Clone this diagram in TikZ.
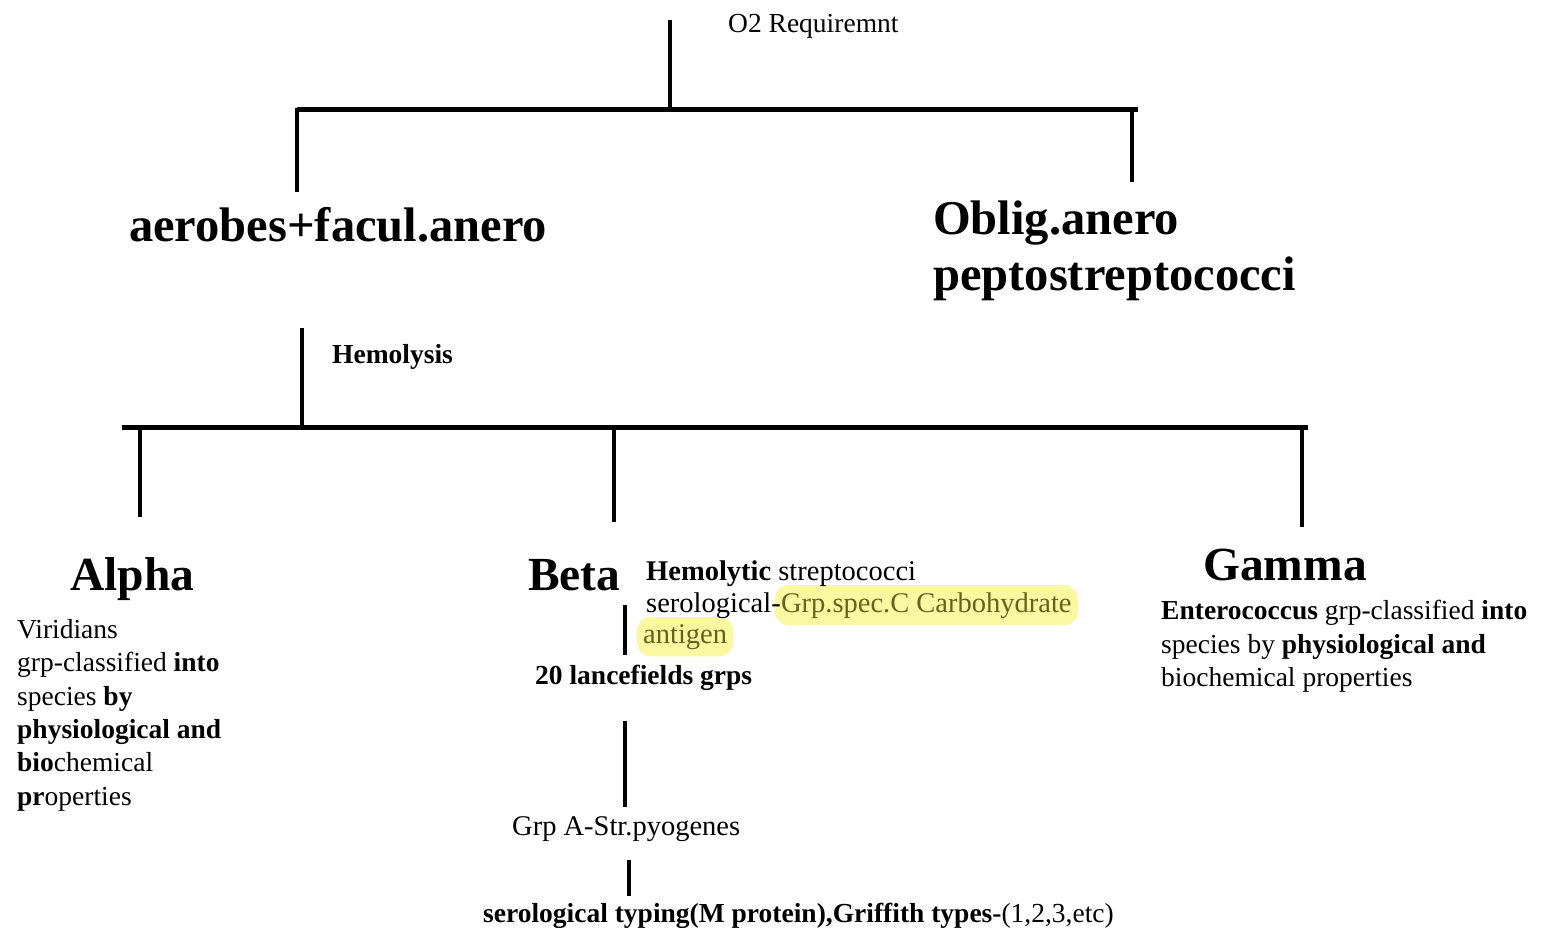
\documentclass[tikz,border=0pt]{standalone}
\usepackage{fontspec}
\setmainfont{Liberation Serif}
\usetikzlibrary{fit,backgrounds}
\definecolor{hlfill}{RGB}{250,248,160}
\definecolor{hltext}{RGB}{100,100,30}
\tikzset{
  bar/.style={line width=5pt},
  stem/.style={line width=4pt},
  bigtxt/.style={font=\bfseries\fontsize{48.5}{55}\selectfont, inner sep=0pt, anchor=base west},
  headtxt/.style={font=\bfseries\fontsize{47.5}{55}\selectfont, inner sep=0pt, anchor=base west},
  txt/.style={font=\fontsize{27.5}{33}\selectfont, inner sep=0pt, anchor=base west},
  betatxt/.style={font=\fontsize{28.5}{33}\selectfont, inner sep=0pt, anchor=base west},
  hlbox/.style={fill=hlfill, rounded corners=14pt, inner xsep=6pt, inner ysep=7pt}
}
\begin{document}
\begin{tikzpicture}[x=1pt,y=-1pt]
\useasboundingbox (0,0) rectangle (1542,928);

% texts
\node[txt] (o2) at (728,33) {O2 Requiremnt};
\node[bigtxt] (aer) at (129,242) {aerobes+facul.anero};
\node[bigtxt] (obl) at (933,235) {Oblig.anero};
\node[bigtxt] (pep) at (933,290) {peptostreptococci};
\node[txt] (hem) at (332,363) {\textbf{Hemolysis}};

\node[headtxt] (alpha) at (70,590) {Alpha};
\node[headtxt] (beta) at (528,590) {Beta};
\node[headtxt] (gamma) at (1203,580) {Gamma};

\node[txt] (al1) at (17,638) {Viridians};
\node[txt] (al2) at (17,671) {grp-classified \textbf{into}};
\node[txt] (al3) at (17,705) {species \textbf{by}};
\node[txt] (al4) at (17,738) {\textbf{physiological and}};
\node[txt] (al5) at (17,771) {\textbf{bio}chemical};
\node[txt] (al6) at (17,805) {\textbf{pr}operties};

\node[betatxt] (be1) at (646,580) {\textbf{Hemolytic} streptococci};
\node[betatxt] (be2a) at (646,612) {serological-};
\node[betatxt, text=hltext] (be2b) at (be2a.base east) {Grp.spec.C Carbohydrate};
\node[betatxt, text=hltext] (be3) at (643,643) {antigen};
\node[txt] (lan) at (535,684) {\textbf{20 lancefields grps}};
\node[betatxt] (pyo) at (512,835) {Grp A-Str.pyogenes};
\node[txt] (ser) at (483,922) {\textbf{serological typing(M protein),Griffith types-}(1,2,3,etc)};

\node[txt] (ga1) at (1161,619) {\textbf{Enterococcus} grp-classified \textbf{into}};
\node[txt] (ga2) at (1161,653) {species by \textbf{physiological and}};
\node[txt] (ga3) at (1161,686) {biochemical properties};

\begin{scope}[on background layer]
  \node[hlbox, fit=(be2b)] (hlA) {};
  \node[hlbox, fit=(be3)] (hlB) {};
\end{scope}

% tree coordinates
\coordinate (rootTop) at (670,20);
\coordinate (rootJ) at (670,110);
\coordinate (barL) at (297,110);
\coordinate (barR) at (1138,110);
\coordinate (aerJ) at (297,108);
\coordinate (aerEnd) at (297,192);
\coordinate (oblJ) at (1132,108);
\coordinate (oblEnd) at (1132,182);
\coordinate (hemTop) at (302,328);
\coordinate (hemJ) at (302,427);
\coordinate (bar2L) at (122,427);
\coordinate (bar2R) at (1308,427);
\coordinate (alJ) at (140,425);
\coordinate (alEnd) at (140,517);
\coordinate (beJ) at (614,425);
\coordinate (beEnd) at (614,522);
\coordinate (gaJ) at (1302,425);
\coordinate (gaEnd) at (1302,527);
\coordinate (lanTop) at (625,605);
\coordinate (lanEnd) at (625,655);
\coordinate (pyoTop) at (625,721);
\coordinate (pyoEnd) at (625,807);
\coordinate (serTop) at (629,860);
\coordinate (serEnd) at (629,896);

% connectors
\draw[stem] (rootTop) -- (rootJ);
\draw[bar] (barL) -- (barR);
\draw[stem] (aerJ) -- (aerEnd);
\draw[stem] (oblJ) -- (oblEnd);
\draw[stem] (hemTop) -- (hemJ);
\draw[bar] (bar2L) -- (bar2R);
\draw[stem] (alJ) -- (alEnd);
\draw[stem] (beJ) -- (beEnd);
\draw[stem] (gaJ) -- (gaEnd);
\draw[stem] (lanTop) -- (lanEnd);
\draw[stem] (pyoTop) -- (pyoEnd);
\draw[stem] (serTop) -- (serEnd);
\end{tikzpicture}
\end{document}
